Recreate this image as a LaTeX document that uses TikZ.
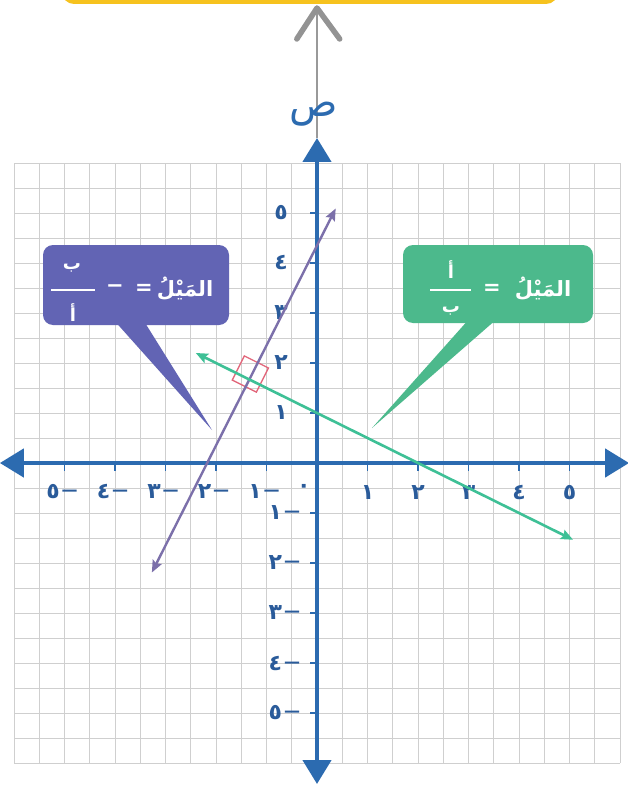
\documentclass[tikz,border=0pt]{standalone}
\usepackage{fontspec}
\usetikzlibrary{arrows.meta,calc}
\newfontfamily\arfont[Script=Arabic]{DejaVu Sans}
\definecolor{axisblue}{HTML}{2C6BB0}
\definecolor{lblblue}{HTML}{2A5B9A}
\definecolor{purp}{HTML}{6264B4}
\definecolor{purpline}{HTML}{7C70AA}
\definecolor{grn}{HTML}{4CB98C}
\definecolor{grnline}{HTML}{3EC096}
\definecolor{sqred}{HTML}{E2667A}
\definecolor{gold}{HTML}{F6C21E}
\definecolor{gridgray}{HTML}{CFCFCF}
\newcommand\ardig[1]{\ifcase#1 ٠\or ١\or ٢\or ٣\or ٤\or ٥\fi}
\newcommand\negdash{\kern2pt\raisebox{3pt}{\fontsize{16}{16}\selectfont—}}
\begin{document}
\begin{tikzpicture}[x=1pt,y=-1pt,
  lbl/.style={text=lblblue,font=\arfont\bfseries\fontsize{22}{22}\selectfont,inner sep=0pt},
  boxtxt/.style={text=white,font=\arfont\bfseries\fontsize{21}{21}\selectfont,inner sep=0pt},
  fractxt/.style={text=white,font=\arfont\bfseries\fontsize{18}{18}\selectfont,inner sep=0pt},
  axisline/.style={axisblue,line width=4.5pt},
  tickline/.style={axisblue,line width=1.4pt},
  graphline/.style={line width=2.4pt,{Stealth[length=12pt,width=10pt,inset=2pt]}-{Stealth[length=12pt,width=10pt,inset=2pt]}},
  fracbar/.style={white,line width=1.8pt}]
\useasboundingbox (0,0) rectangle (628,786);
\fill[white] (0,0) rectangle (628,786);
% top yellow box
\begin{scope}
\clip (0,0) rectangle (628,786);
\fill[gold, rounded corners=12pt] (62,-30) rectangle (558,4);
\end{scope}
\begin{scope}[shift={(317,463)},x=50.5pt,y=50pt]
  \draw[gridgray,line width=0.8pt] (-6,-6) grid[step=0.5] (6,6);
  % coordinates
  \coordinate (xl) at (-6.28,0);
  \coordinate (xr) at (6.18,0);
  \coordinate (yb) at (0,-6.42);
  \coordinate (yt) at (0,6.5);
  \coordinate (gtip) at (0,9.1);
  \coordinate (gl) at (-0.4,8.48);
  \coordinate (gr) at (0.45,8.48);
  \coordinate (pA) at (-3.27,-2.19);
  \coordinate (pB) at (0.37,5.09);
  \coordinate (gA) at (-2.4,2.2);
  \coordinate (gB) at (5.07,-1.535);
  \coordinate (sqc) at (-1.32,1.78);
  % grey arrow
  \draw[gray!80,line width=2pt] (yt) -- (gtip);
  \draw[gray!85,line width=5.5pt,line cap=round,line join=round] (gl) -- (gtip) -- (gr);
  % axes
  \draw[axisline,{Triangle[length=24pt,width=28pt]}-{Triangle[length=24pt,width=28pt]}] (xl) -- (xr);
  \draw[axisline,{Triangle[length=24pt,width=28pt]}-{Triangle[length=24pt,width=28pt]}] (yb) -- (yt);
  \foreach \i in {-5,-4,-3,-2,-1,1,2,3,4,5}{
    \draw[tickline] (\i,0) -- (\i,-0.15);
    \draw[tickline] (0,\i) -- (-0.14,\i);
  }
  % labels
  \foreach \i in {1,...,5}{
    \node[lbl] (xp\i) at (\i,-0.6) {\ardig{\i}};
    \node[lbl] (xn\i) at (-\i-0.05,-0.58) {\ardig{\i}\negdash};
    \node[lbl] (yp\i) at (-0.71,\i) {\ardig{\i}};
    \node[lbl,anchor=east] (yn\i) at (-0.33,-\i) {\ardig{\i}\negdash};
  }
  \node[lbl] (zero) at (-0.26,-0.5) {\ardig{0}};
  \node[text=axisblue,font=\arfont\fontsize{40}{40}\selectfont,inner sep=0pt] (ylab) at (-0.06,6.98) {ص};
  % red right-angle square
  \draw[sqred,line width=1.3pt,rotate around={-26.57:(sqc)}] ($(sqc)+(-0.267,-0.27)$) rectangle ($(sqc)+(0.267,0.27)$);
  % lines
  \draw[graphline,purpline] (pA) -- (pB);
  \draw[graphline,grnline,line width=2.6pt] (gA) -- (gB);
\end{scope}
% purple callout
\fill[purp] (112,318) -- (142,318) -- (212,430) -- cycle;
\coordinate (pboxa) at (43,245);
\coordinate (pboxb) at (229,325);
\fill[purp,rounded corners=10pt] (pboxa) rectangle (pboxb);
\node[boxtxt] (pword) at (185,289) {المَيْلُ};
\node[boxtxt] (peq) at (144,289) {=};
\node[boxtxt] (pminus) at (115,289) {−};
\node[fractxt] (pnum) at (72,268) {ب};
\node[fractxt] (pden) at (73,313) {أ};
\coordinate (pbarl) at (51,290);
\coordinate (pbarr) at (95,290);
\draw[fracbar] (pbarl) -- (pbarr);
% green callout
\fill[grn] (470,318) -- (498,318) -- (372,428) -- cycle;
\coordinate (gboxa) at (403,245);
\coordinate (gboxb) at (593,323);
\fill[grn,rounded corners=10pt] (gboxa) rectangle (gboxb);
\node[boxtxt] (gword) at (543,289) {المَيْلُ};
\node[boxtxt] (geq) at (492,289) {=};
\node[fractxt] (gnum) at (451,270) {أ};
\node[fractxt] (gden) at (451,311) {ب};
\coordinate (gbarl) at (430,290);
\coordinate (gbarr) at (471,290);
\draw[fracbar] (gbarl) -- (gbarr);
\end{tikzpicture}
\end{document}
